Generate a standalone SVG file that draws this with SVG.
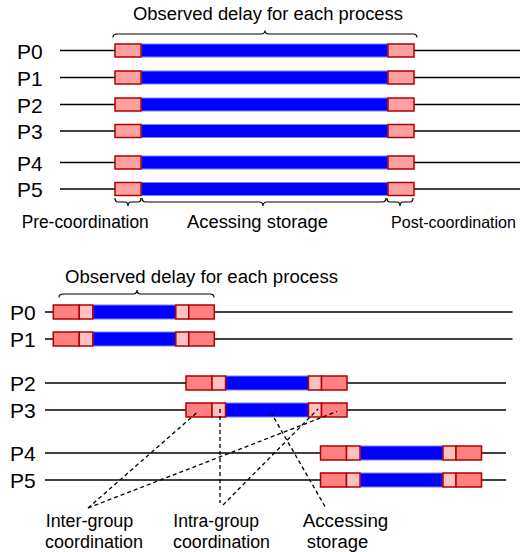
<svg xmlns="http://www.w3.org/2000/svg" width="523" height="552" viewBox="0 0 523 552">
<style>
text{font-family:"Liberation Sans",Arial,sans-serif;fill:#000}
.p{font-size:21px}
.t{font-size:18px}
.ln{stroke:#000;stroke-width:1.5;fill:none}
.br{stroke:#000;stroke-width:1.2;fill:none}
.pk{fill:#ffa0a0;stroke:#b00000;stroke-width:1.5}
.sa{fill:#ff8080;stroke:#b00000;stroke-width:1.5}
.lp{fill:#ffc0c0;stroke:#b00000;stroke-width:1.5}
.bl{fill:#0000ff;stroke:#8080ff;stroke-width:1}
.dash{stroke:#000;stroke-width:1.3;stroke-dasharray:4 3;fill:none}
</style>
<defs>
<g id="topbar">
<rect class="bl" x="141" y="-6.5" width="247" height="13"/>
<rect class="pk" x="115" y="-6.5" width="26" height="13"/>
<rect class="pk" x="388" y="-6.5" width="26" height="13"/>
</g>
<g id="botbar">
<rect class="bl" x="39.5" y="-7" width="83" height="14"/>
<rect class="sa" x="0" y="-7" width="26" height="14"/>
<rect class="lp" x="26" y="-7" width="13.5" height="14"/>
<rect class="lp" x="122.5" y="-7" width="13" height="14"/>
<rect class="sa" x="135.5" y="-7" width="25.5" height="14"/>
</g>
</defs>

<g id="top-title">
<text class="t" x="133" y="20" textLength="270" lengthAdjust="spacingAndGlyphs">Observed delay for each process</text>
<path class="br" d="M113,37.5 Q113,34 117,34 L261,34 Q265,34 265,30.5 Q265,34 269,34 L413,34 Q417,34 417,37.5"/>
</g>

<g id="top-P0"><text class="p" x="17" y="58.5">P0</text><line class="ln" x1="60" y1="50.5" x2="520" y2="50.5"/><use href="#topbar" y="50.5"/></g>
<g id="top-P1"><text class="p" x="17" y="85.5">P1</text><line class="ln" x1="60" y1="77.5" x2="520" y2="77.5"/><use href="#topbar" y="77.5"/></g>
<g id="top-P2"><text class="p" x="17" y="112.5">P2</text><line class="ln" x1="60" y1="104.5" x2="520" y2="104.5"/><use href="#topbar" y="104.5"/></g>
<g id="top-P3"><text class="p" x="17" y="139">P3</text><line class="ln" x1="60" y1="131" x2="520" y2="131"/><use href="#topbar" y="131"/></g>
<g id="top-P4"><text class="p" x="17" y="170.5">P4</text><line class="ln" x1="60" y1="162.5" x2="520" y2="162.5"/><use href="#topbar" y="162.5"/></g>
<g id="top-P5"><text class="p" x="17" y="197">P5</text><line class="ln" x1="60" y1="189" x2="520" y2="189"/><use href="#topbar" y="189"/></g>

<g id="top-labels">
<path class="br" d="M115,198 Q115,202 118,202 L125,202 Q128,202 128,206 Q128,202 131,202 L138,202 Q141,202 141,198"/>
<path class="br" d="M142,198 Q142,202 146,202 L259,202 Q263,202 263,206 Q263,202 267,202 L382,202 Q386,202 386,198"/>
<path class="br" d="M387,198 Q387,202 390,202 L397,202 Q400,202 400,206 Q400,202 403,202 L410,202 Q413,202 413,198"/>
<text class="t" x="21.7" y="228" textLength="127" lengthAdjust="spacingAndGlyphs">Pre-coordination</text>
<text class="t" x="187" y="228" textLength="141" lengthAdjust="spacingAndGlyphs">Acessing storage</text>
<text class="t" x="391" y="228" style="font-size:16.5px" textLength="125" lengthAdjust="spacingAndGlyphs">Post-coordination</text>
</g>

<g id="bottom-title">
<text class="t" x="65" y="283" textLength="273" lengthAdjust="spacingAndGlyphs">Observed delay for each process</text>
<path class="br" d="M59,297.5 Q59,294 63,294 L133,294 Q137,294 137,290 Q137,294 141,294 L210,294 Q214,294 214,297.5"/>
</g>

<g id="bot-P0"><text class="p" x="10" y="320">P0</text><line class="ln" x1="45" y1="312" x2="512.5" y2="312"/><use href="#botbar" x="53.3" y="312"/></g>
<g id="bot-P1"><text class="p" x="10" y="347">P1</text><line class="ln" x1="45" y1="339" x2="512.5" y2="339"/><use href="#botbar" x="53.3" y="339"/></g>
<g id="bot-P2"><text class="p" x="10" y="391">P2</text><line class="ln" x1="45" y1="383" x2="506" y2="383"/><use href="#botbar" x="186" y="383"/></g>
<g id="bot-P3"><text class="p" x="10" y="418">P3</text><line class="ln" x1="45" y1="410" x2="506" y2="410"/><use href="#botbar" x="186" y="410"/></g>
<g id="bot-P4"><text class="p" x="10" y="461">P4</text><line class="ln" x1="45" y1="453" x2="506" y2="453"/><use href="#botbar" x="320.5" y="453"/></g>
<g id="bot-P5"><text class="p" x="10" y="488">P5</text><line class="ln" x1="45" y1="480" x2="506" y2="480"/><use href="#botbar" x="320.5" y="480"/></g>

<g id="connectors">
<line class="dash" x1="88" y1="508" x2="197" y2="412.5"/>
<line class="dash" x1="88" y1="508" x2="337" y2="411.5"/>
<line class="dash" x1="220" y1="409" x2="220" y2="503"/>
<line class="dash" x1="223" y1="505" x2="318" y2="409"/>
<line class="dash" x1="325" y1="506.5" x2="269.5" y2="410"/>
</g>

<g id="label-inter">
<text class="t" x="45.7" y="527" textLength="87.6" lengthAdjust="spacingAndGlyphs">Inter-group</text>
<text class="t" x="45" y="548" textLength="98" lengthAdjust="spacingAndGlyphs">coordination</text>
</g>
<g id="label-intra">
<text class="t" x="173.3" y="527" textLength="85.7" lengthAdjust="spacingAndGlyphs">Intra-group</text>
<text class="t" x="173" y="548" textLength="97" lengthAdjust="spacingAndGlyphs">coordination</text>
</g>
<g id="label-access">
<text class="t" x="302.7" y="527" textLength="85.6" lengthAdjust="spacingAndGlyphs">Accessing</text>
<text class="t" x="306.7" y="548" textLength="61.6" lengthAdjust="spacingAndGlyphs">storage</text>
</g>
</svg>
